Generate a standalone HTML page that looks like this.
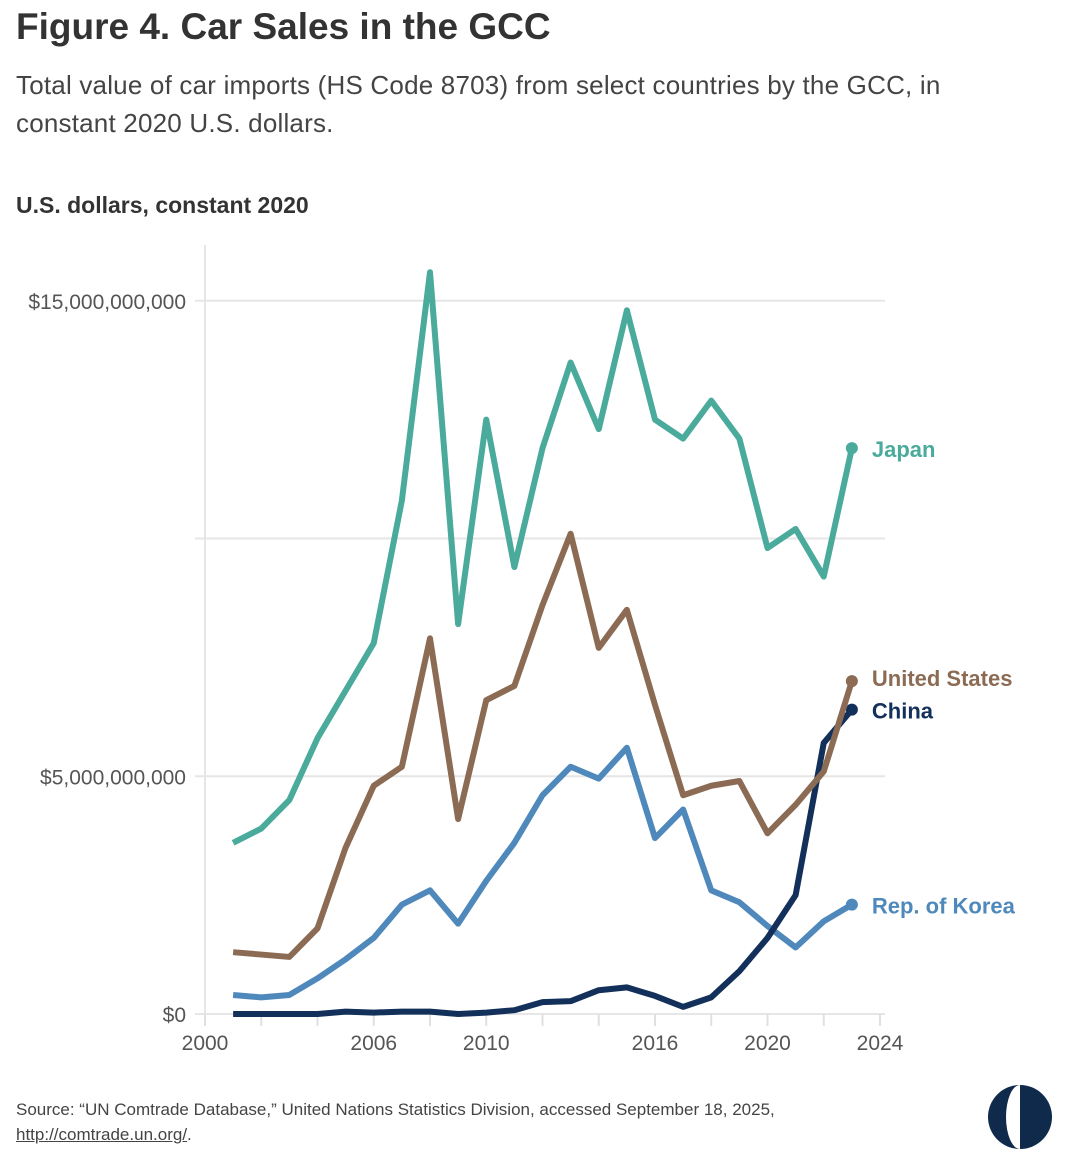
<!DOCTYPE html>
<html><head><meta charset="utf-8"><style>
body{margin:0;background:#fff;width:1080px;height:1168px;overflow:hidden;font-family:"Liberation Sans",sans-serif;color:#333}
.t{position:absolute;left:16px}
</style></head><body>
<div class="t" style="top:6px;font-size:37px;font-weight:bold;color:#333">Figure 4. Car Sales in the GCC</div>
<div class="t" style="top:66px;font-size:26px;line-height:38px;color:#444;width:1030px;letter-spacing:0.2px">Total value of car imports (HS Code 8703) from select countries by the GCC, in constant 2020 U.S. dollars.</div>
<div class="t" style="top:192px;font-size:23px;font-weight:bold;color:#333">U.S. dollars, constant 2020</div>
<svg id="c" width="1080" height="1168" style="position:absolute;left:0;top:0"></svg>
<div class="t" style="top:1097px;font-size:17px;line-height:25px;color:#444">Source: “UN Comtrade Database,” United Nations Statistics Division, accessed September 18, 2025,<br><span style="text-decoration:underline">http://comtrade.un.org/</span>.</div>
<svg width="70" height="70" style="position:absolute;left:985px;top:1082px">
<circle cx="35" cy="35" r="32" fill="#0f2a4a"/>
<path d="M35 3 A14 32 0 0 0 35 67 Z" fill="#fff"/>
</svg>
<script>
const years=[2001,2002,2003,2004,2005,2006,2007,2008,2009,2010,2011,2012,2013,2014,2015,2016,2017,2018,2019,2020,2021,2022,2023];
const japan=[3.6,3.9,4.5,5.8,6.8,7.8,10.8,15.6,8.2,12.5,9.4,11.9,13.7,12.3,14.8,12.5,12.1,12.9,12.1,9.8,10.2,9.2,11.9];
const usa=[1.3,1.25,1.2,1.8,3.5,4.8,5.2,7.9,4.1,6.6,6.9,8.6,10.1,7.7,8.5,6.5,4.6,4.8,4.9,3.8,4.4,5.1,7.0];
const korea=[0.4,0.35,0.4,0.75,1.15,1.6,2.3,2.6,1.9,2.8,3.6,4.6,5.2,4.95,5.6,3.7,4.3,2.6,2.35,1.85,1.4,1.95,2.3];
const china=[0,0,0,0,0.05,0.03,0.05,0.05,0,0.03,0.08,0.25,0.27,0.5,0.56,0.38,0.15,0.35,0.9,1.6,2.5,5.7,6.4];
const yTicks=[0,5,10,15];
const yTickLabels=["$0","$5,000,000,000","","$15,000,000,000"];
const xTickLabels=[2000,2006,2010,2016,2020,2024];
const X=y=>205+(y-2000)*28.125, Y=v=>1014-v*47.55;
const s=document.getElementById('c'),NS='http://www.w3.org/2000/svg';
function mk(t,a,p){const e=document.createElementNS(NS,t);for(const k in a)e.setAttribute(k,a[k]);(p||s).appendChild(e);return e;}
yTicks.forEach((v,i)=>{
 const g=mk('line',{x1:195,x2:885,y1:Y(v),y2:Y(v),stroke:'#e6e6e6','stroke-width':2});
 
 
 if(yTickLabels[i]){const t=mk('text',{x:186,y:Y(v)+8,'text-anchor':'end','font-size':21,fill:'#555','font-family':'Liberation Sans Narrow, Liberation Sans, sans-serif'});t.textContent=yTickLabels[i];
 
 }
});
const ax=mk('line',{x1:205,x2:205,y1:245,y2:1024,stroke:'#e6e6e6','stroke-width':2});


for(let y=2000;y<=2024;y+=2){const l=mk('line',{x1:X(y),x2:X(y),y1:1014,y2:1026,stroke:'#e0e0e0','stroke-width':2});
 
 }
xTickLabels.forEach(y=>{const t=mk('text',{x:X(y),y:1050,'text-anchor':'middle','font-size':21,fill:'#555','font-family':'Liberation Sans Narrow, Liberation Sans, sans-serif'});t.textContent=y;
 
 });
const series=[['korea',korea,'#4f88bb','Rep. of Korea',0],['china',china,'#12305a','China',0],['usa',usa,'#8b6b53','United States',-4],['japan',japan,'#4aaa9b','Japan',0]];
series.forEach(([n,d,c,lab,dy])=>{
 const p=mk('polyline',{points:d.map((v,i)=>X(years[i])+','+Y(v)).join(' '),fill:'none',stroke:c,'stroke-width':6,'stroke-linejoin':'round'});
 
 
 const lx=X(years[years.length-1]),ly=Y(d[d.length-1]);
 const dot=mk('circle',{cx:lx,cy:ly,r:6,fill:c});
 
 
 const t=mk('text',{x:lx+20,y:ly+9+dy,'font-size':22,'font-weight':'bold',fill:c});t.textContent=lab;
 
 
});
</script>
</body></html>
